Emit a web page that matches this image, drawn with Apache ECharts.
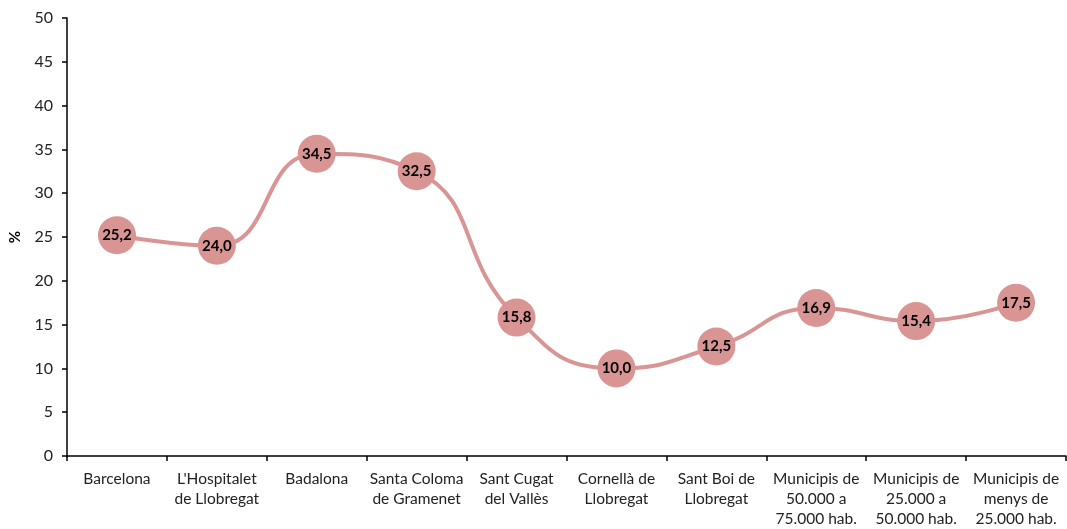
<!DOCTYPE html>
<html>
<head>
<meta charset="utf-8">
<script src="https://cdn.jsdelivr.net/npm/echarts@6/dist/echarts.min.js"></script>
<style>
  html, body { margin: 0; padding: 0; background: #fff; }
  #chart { width: 1067px; height: 529px; }
</style>
</head>
<body>
<div id="chart"></div>
<script>
var categories = [
  'Barcelona',
  "L'Hospitalet\nde Llobregat",
  'Badalona',
  'Santa Coloma\nde Gramenet',
  'Sant Cugat\ndel Vallès',
  'Cornellà de\nLlobregat',
  'Sant Boi de\nLlobregat',
  'Municipis de\n50.000 a\n75.000 hab.',
  'Municipis de\n25.000 a\n50.000 hab.',
  'Municipis de\nmenys de\n25.000 hab.'
]
var values = [25.2, 24.0, 34.5, 32.5, 15.8, 10.0, 12.5, 16.9, 15.4, 17.5]

var fontFam = 'Lato, "Open Sans", sans-serif'
var pink = '#D99594'

var chart = echarts.init(document.getElementById('chart'))
var option = {
  animation: false,
  grid: { left: 65, right: 1, top: 18, bottom: 73 },
  xAxis: {
    type: 'category',
    data: categories,
    boundaryGap: true,
    axisLine: { lineStyle: { color: '#000', width: 1.5 } },
    axisTick: { show: true, length: 5, lineStyle: { color: '#000', width: 1.5 } },
    axisLabel: {
      interval: 0,
      margin: 13,
      color: '#222',
      fontSize: 15.5,
      lineHeight: 20,
      fontFamily: fontFam
    },
    splitLine: { show: false }
  },
  yAxis: {
    type: 'value',
    min: 0,
    max: 50,
    interval: 5,
    name: '%',
    nameLocation: 'middle',
    nameRotate: 90,
    nameGap: 44,
    nameTextStyle: { color: '#000', fontWeight: 'bold', fontSize: 15, fontFamily: fontFam },
    axisLine: { show: true, lineStyle: { color: '#000', width: 1.5 } },
    axisTick: { show: true, length: 5, lineStyle: { color: '#000', width: 1.5 } },
    axisLabel: { color: '#222', fontSize: 16, margin: 14, fontFamily: fontFam },
    splitLine: { show: false }
  },
  series: [
    {
      type: 'line',
      data: values,
      smooth: 0.5,
      symbol: 'circle',
      symbolSize: 38,
      lineStyle: { color: pink, width: 4 },
      itemStyle: { color: pink },
      label: {
        show: true,
        position: 'inside',
        color: '#000',
        fontWeight: 'bold',
        fontSize: 15,
        fontFamily: fontFam,
        formatter: function (p) {
          return p.value.toFixed(1).replace('.', ',')
        }
      }
    }
  ]
}
chart.setOption(option)
</script>
</body>
</html>
